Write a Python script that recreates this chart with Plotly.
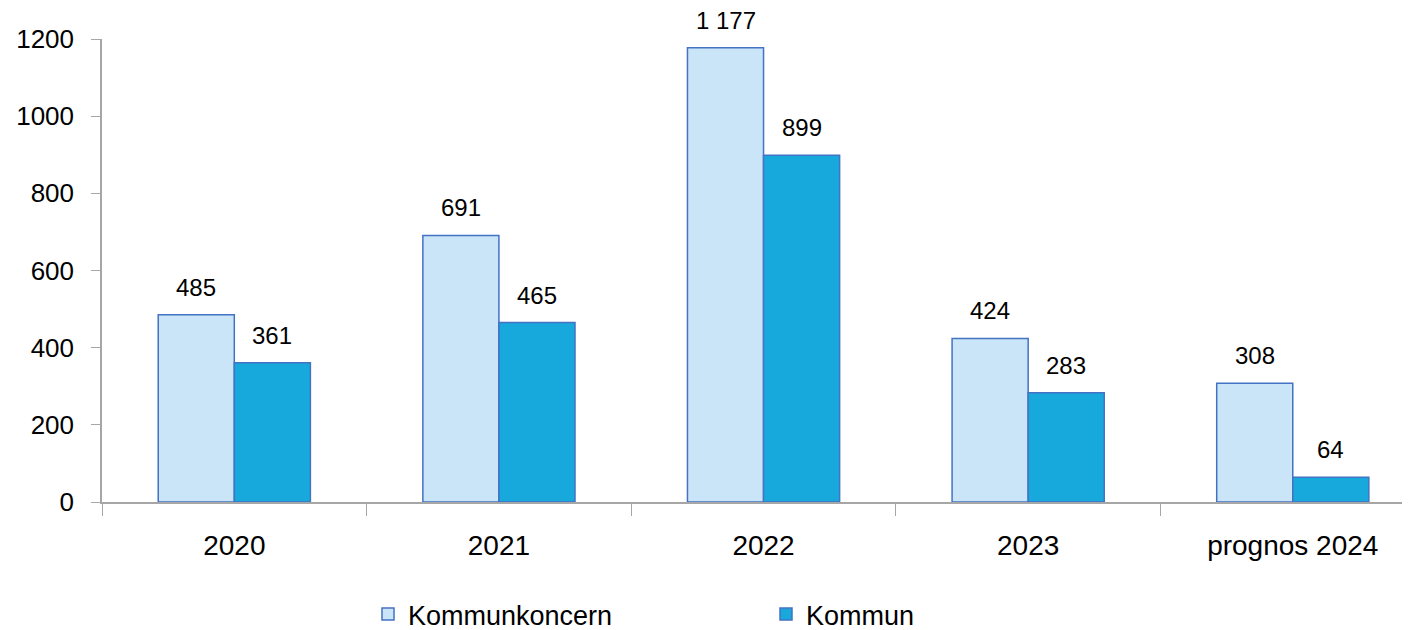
import plotly.graph_objects as go

years = ["2020", "2021", "2022", "2023", "prognos 2024"]
koncern = [485, 691, 1177, 424, 308]
kommun = [361, 465, 899, 283, 64]

font = "Liberation Sans, DejaVu Sans, sans-serif"

fig = go.Figure()
fig.add_trace(go.Bar(
    name="Kommunkoncern", x=years, y=koncern,
    marker=dict(color="#C9E5F7", line=dict(color="#4472C4", width=1.5)),
))
fig.add_trace(go.Bar(
    name="Kommun", x=years, y=kommun,
    marker=dict(color="#17A9DC", line=dict(color="#4472C4", width=1.5)),
))

# value labels above each bar, shifted to the left / right bar of each group
def fmt(v):
    return f"{v:,}".replace(",", " ")

for i, v in enumerate(koncern):
    fig.add_annotation(x=i, y=v, text=fmt(v), xshift=-38, yshift=12,
                       yanchor="bottom", showarrow=False, font=dict(size=24))
for i, v in enumerate(kommun):
    fig.add_annotation(x=i, y=v, text=fmt(v), xshift=38, yshift=12,
                       yanchor="bottom", showarrow=False, font=dict(size=24))

fig.update_layout(
    width=1402, height=622,
    margin=dict(l=94, r=0, t=31, b=128, autoexpand=False),
    paper_bgcolor="white", plot_bgcolor="white",
    font=dict(family=font, size=24, color="black"),
    barmode="group", bargap=0.425, bargroupgap=0,
    showlegend=True,
    legend=dict(
        orientation="h", x=(360 - 94) / 1308, xanchor="left", y=-0.243, yanchor="middle",
        entrywidth=353, entrywidthmode="pixels",
        font=dict(size=27), itemwidth=30,
    ),
    xaxis=dict(
        range=[-0.5, 4.443], showline=True, linecolor="#A6A6A6", linewidth=1.5,
        ticks="outside", tickson="boundaries", ticklen=12, tickcolor="#A6A6A6",
        tickfont=dict(size=28), ticklabelstandoff=18, showgrid=False,
        automargin=False,
    ),
    yaxis=dict(
        range=[0, 1200], dtick=200, showline=True, linecolor="#A6A6A6", linewidth=1.5,
        ticks="outside", ticklen=9, tickcolor="#A6A6A6", showgrid=False,
        zeroline=False, tickfont=dict(size=26), tickformat="d", ticklabelstandoff=12,
        automargin=False,
    ),
)

fig.write_html("out.html")
